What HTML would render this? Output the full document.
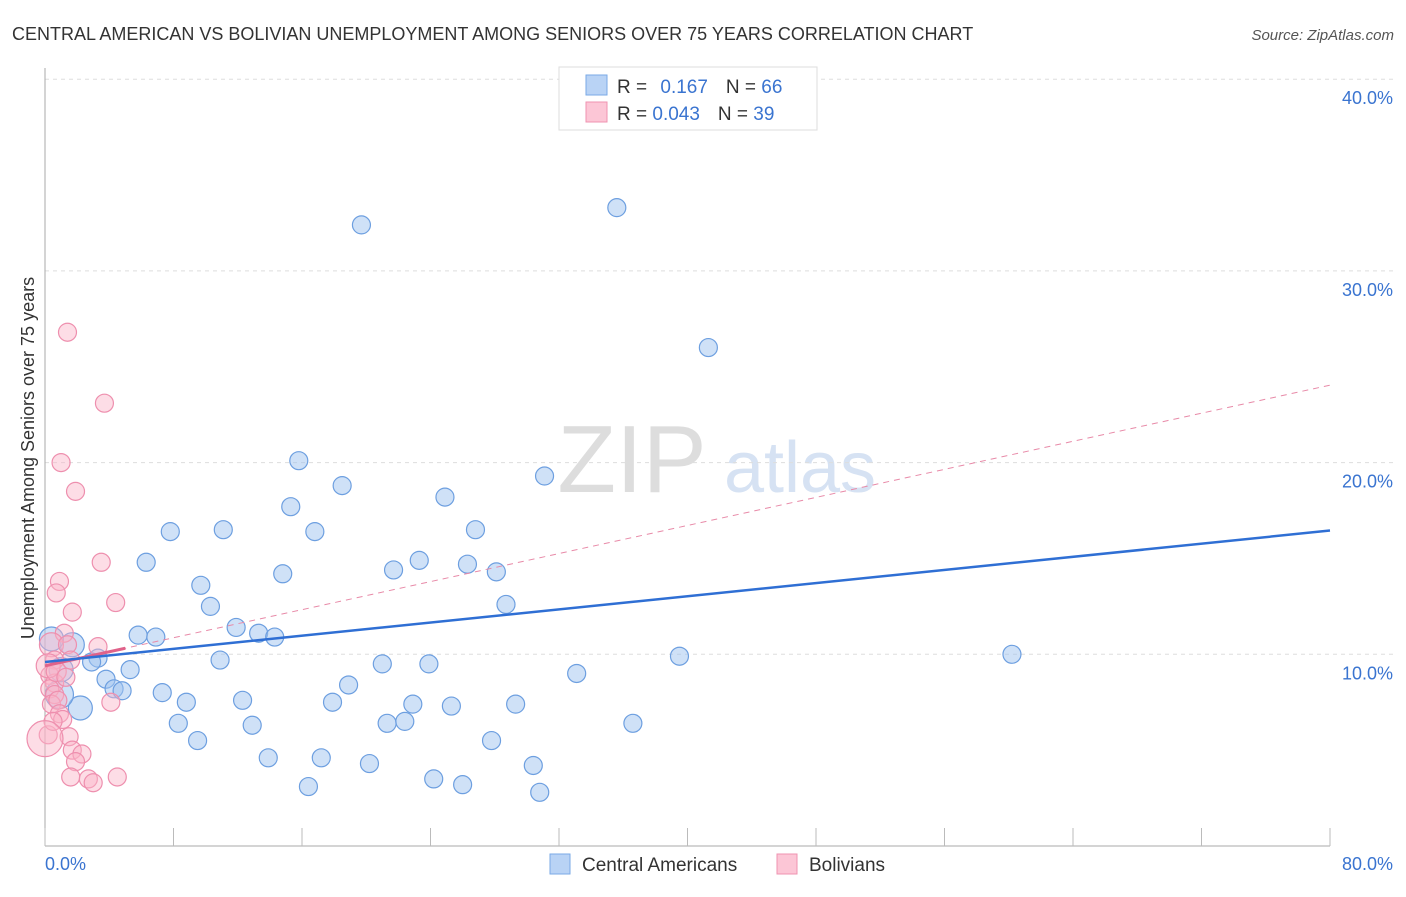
<!DOCTYPE html>
<html><head><meta charset="utf-8"><style>
body{margin:0;background:#fff;font-family:"Liberation Sans",sans-serif;}
svg text{font-family:"Liberation Sans",sans-serif;}
</style></head><body>
<svg id="c" width="1406" height="892">
<text x="12" y="40" font-size="18" fill="#333">CENTRAL AMERICAN VS BOLIVIAN UNEMPLOYMENT AMONG SENIORS OVER 75 YEARS CORRELATION CHART</text>
<text x="1394" y="40" font-size="15" fill="#555" font-style="italic" text-anchor="end">Source: ZipAtlas.com</text>
<text x="632" y="492" font-size="96" fill="#ddd" font-family="Liberation Serif" text-anchor="middle">ZIP</text>
<text x="800" y="492" font-size="72" fill="#d6e2f3" text-anchor="middle">atlas</text>
<g id="grid"></g><g id="axes"></g><g id="marks"></g>
<text transform="translate(34,458) rotate(-90)" font-size="18" fill="#333" text-anchor="middle">Unemployment Among Seniors over 75 years</text>
<g>
<rect x="559" y="67" width="258" height="63" fill="#fff" stroke="#ddd"/>
<rect x="586" y="75" width="21" height="20" fill="#b9d3f5" stroke="#7aaae6"/>
<rect x="586" y="102" width="21" height="20" fill="#fcc6d6" stroke="#ef93b0"/>
<text x="617" y="93" font-size="19" fill="#333">R = <tspan fill="#3a74d0" dx="8">0.167</tspan><tspan dx="18" fill="#333">N = </tspan><tspan fill="#3a74d0">66</tspan></text>
<text x="617" y="120" font-size="19" fill="#333">R = <tspan fill="#3a74d0">0.043</tspan><tspan dx="18" fill="#333">N = </tspan><tspan fill="#3a74d0">39</tspan></text>
</g>
<g>
<rect x="550" y="854" width="20" height="20" fill="#b9d3f5" stroke="#7aaae6"/>
<text x="582" y="871" font-size="19" fill="#333">Central Americans</text>
<rect x="777" y="854" width="20" height="20" fill="#fcc6d6" stroke="#ef93b0"/>
<text x="809" y="871" font-size="19" fill="#333">Bolivians</text>
</g>
</svg>
<script>
const yTicks=[10,20,30,40];
const yTickLabels=["10.0%","20.0%","30.0%","40.0%"];
const xTickLabels=["0.0%","80.0%"];
const blueX=[35.6,19.7,41.3,15.8,18.5,31.1,24.9,15.3,7.8,11.1,16.8,26.8,6.3,23.3,26.3,21.7,14.8,28.1,9.7,10.3,28.7,11.9,13.3,14.3,5.8,6.9,1.7,3.3,2.9,5.3,10.9,21.0,23.9,33.1,39.5,60.2,3.8,4.3,4.8,7.3,18.9,8.8,12.3,17.9,22.9,25.3,29.3,2.2,8.3,12.9,21.3,22.4,36.6,9.5,27.8,13.9,17.2,20.2,30.4,24.2,16.4,26.0,30.8,0.4,0.9,1.0];
const blueY=[33.3,32.4,26.0,20.1,18.8,19.3,18.2,17.7,16.4,16.5,16.4,16.5,14.8,14.9,14.7,14.4,14.2,14.3,13.6,12.5,12.6,11.4,11.1,10.9,11.0,10.9,10.5,9.8,9.6,9.2,9.7,9.5,9.5,9.0,9.9,10.0,8.7,8.2,8.1,8.0,8.4,7.5,7.6,7.5,7.4,7.3,7.4,7.2,6.4,6.3,6.4,6.5,6.4,5.5,5.5,4.6,4.6,4.3,4.2,3.5,3.1,3.2,2.8,10.8,7.9,9.2];
const blueR=[9,9,9,9,9,9,9,9,9,9,9,9,9,9,9,9,9,9,9,9,9,9,9,9,9,9,12,9,9,9,9,9,9,9,9,9,9,9,9,9,9,9,9,9,9,9,9,12,9,9,9,9,9,9,9,9,9,9,9,9,9,9,9,12,14,12];
const pinkX=[1.4,3.7,1.0,1.9,3.5,0.9,0.7,4.4,1.7,1.2,0.4,1.4,3.3,1.6,0.6,0.3,0.6,0.3,0.6,0.4,0.8,4.1,0.9,1.1,0.2,1.5,1.7,2.3,1.9,1.6,2.7,3.0,4.5,0.2,0.7,1.3,0.5,0.0];
const pinkY=[26.8,23.1,20.0,18.5,14.8,13.8,13.2,12.7,12.2,11.1,10.5,10.5,10.4,9.7,9.7,8.9,8.5,8.2,7.9,7.4,7.6,7.5,6.9,6.6,5.8,5.7,5.0,4.8,4.4,3.6,3.5,3.3,3.6,9.4,9.1,8.8,6.5,5.6];
const pinkR=[9,9,9,9,9,9,9,9,9,9,12,9,9,9,9,9,9,9,9,9,9,9,9,9,9,9,9,9,9,9,9,9,9,12,10,9,9,18];
const blueTrend=[9.6,0.0857]; // intercept, slope per %
const pinkTrend=[9.4,0.183];
const pinkSolidEnd=5.0;
const ns="http://www.w3.org/2000/svg";
const X=v=>45+v*1285/80, Y=v=>846-v*19.17;
function mk(t,a,p){const e=document.createElementNS(ns,t);for(const k in a)e.setAttribute(k,a[k]);document.getElementById(p).appendChild(e);return e;}
yTicks.forEach((t,i)=>{
 const l=mk('line',{x1:45,x2:1394,y1:Y(t),y2:Y(t),stroke:'#ddd','stroke-dasharray':'4,4'},'grid');
 
 
 const tx=mk('text',{x:1393,y:Y(t)+25,'font-size':18,fill:'#3a74d0','text-anchor':'end'},'axes');tx.textContent=yTickLabels[i];
 
 
});
const ax=mk('line',{x1:45,x2:45,y1:68,y2:846,stroke:'#aaa'},'axes');


const bx=mk('line',{x1:45,x2:1330,y1:846,y2:846,stroke:'#aaa'},'axes');


for(let i=0;i<=10;i++){const t=mk('line',{x1:X(i*8),x2:X(i*8),y1:828,y2:846,stroke:'#bbb'},'axes');
 
 }
[[0,45,'start'],[80,1393,'end']].forEach((d,i)=>{const t=mk('text',{x:d[1],y:870,'font-size':18,fill:'#3a74d0','text-anchor':d[2]},'axes');t.textContent=xTickLabels[i];
 
 });
blueX.forEach((x,i)=>{const c=mk('circle',{cx:X(x),cy:Y(blueY[i]),r:blueR[i],fill:'rgba(160,196,240,0.5)',stroke:'#6d9fe0','stroke-width':1.2},'marks');
 
 });
pinkX.forEach((x,i)=>{const c=mk('circle',{cx:X(x),cy:Y(pinkY[i]),r:pinkR[i],fill:'rgba(250,180,200,0.45)',stroke:'#ee8fae','stroke-width':1.2},'marks');
 
 });
const l1=mk('line',{x1:X(0),y1:Y(pinkTrend[0]),x2:X(80),y2:Y(pinkTrend[0]+80*pinkTrend[1]),stroke:'#e88aa8','stroke-dasharray':'6,5','stroke-width':1},'marks');


const l2=mk('line',{x1:X(0),y1:Y(pinkTrend[0]),x2:X(pinkSolidEnd),y2:Y(pinkTrend[0]+pinkSolidEnd*pinkTrend[1]),stroke:'#e0628a','stroke-width':3},'marks');


const l3=mk('line',{x1:X(0),y1:Y(blueTrend[0]),x2:X(80),y2:Y(blueTrend[0]+80*blueTrend[1]),stroke:'#2f6fd4','stroke-width':2.5},'marks');


</script>
</body></html>
